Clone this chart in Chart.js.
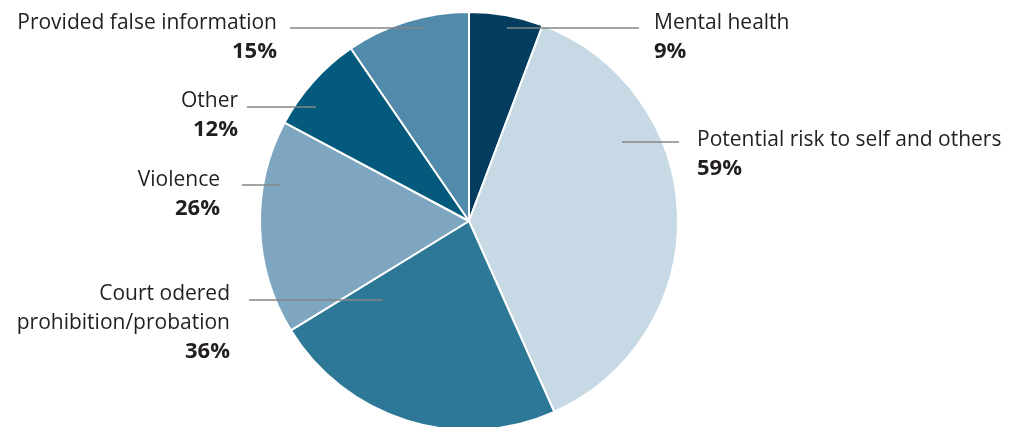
<!DOCTYPE html>
<html>
<head>
<meta charset="utf-8">
<script src="https://cdn.jsdelivr.net/npm/chart.js@4"></script>
<style>
  html, body { margin: 0; padding: 0; background: #fff; overflow: hidden; }
  #wrap { position: relative; width: 1029px; height: 440px; }
</style>
</head>
<body>
<div id="wrap"><canvas id="reasonsPie"></canvas></div>
<script>
// Reasons, clockwise from 12 o'clock
const categories = ['Mental health', 'Potential risk to self and others', 'Court odered prohibition/probation', 'Violence', 'Other', 'Provided false information'];
const shares = [9, 59, 36, 26, 12, 15];
const shareLabels = ['9%', '59%', '36%', '26%', '12%', '15%'];

const sliceColors = ['#043d5e', '#c6d9e4', '#2e7897', '#7ea6c0', '#035a7c', '#518aaa'];

// Callout placement, offsets from the pie centre.
// line: [x1, x2, y], text lines drawn from x with the given baselines
const callouts = [
    { line: [38, 170, -193], x: 185, align: 'left', lines: ['Mental health'], base: -192 },
    { line: [153, 210, -79], x: 228, align: 'left', lines: ['Potential risk to self and others'], base: -75 },
    { line: [-220, -86, 79], x: -239, align: 'right', lines: ['Court odered', 'prohibition/probation'], base: 79 },
    { line: [-227, -189, -36], x: -249, align: 'right', lines: ['Violence'], base: -35 },
    { line: [-222, -153, -114], x: -231, align: 'right', lines: ['Other'], base: -114 },
    { line: [-179, -46, -193], x: -192, align: 'right', lines: ['Provided false information'], base: -192 }
];

const FONT = '"Open Sans", "DejaVu Sans", sans-serif';
const LINE_H = 29;

const calloutPlugin = {
    id: 'callouts',
    afterDraw(chart) {
        const ctx = chart.ctx;
        const arcs = chart.getDatasetMeta(0).data;
        if (!arcs.length) return;
        const cx = arcs[0].x, cy = arcs[0].y;
        ctx.save();
        callouts.forEach((c, i) => {
            // leader line
            ctx.strokeStyle = '#868686';
            ctx.lineWidth = 1.5;
            ctx.beginPath();
            ctx.moveTo(cx + c.line[0], cy + c.line[2]);
            ctx.lineTo(cx + c.line[1], cy + c.line[2]);
            ctx.stroke();

            ctx.textAlign = c.align;
            ctx.textBaseline = 'alphabetic';
            ctx.fillStyle = '#231f20';
            let y = cy + c.base;
            ctx.font = '21px ' + FONT;
            c.lines.forEach(t => {
                ctx.fillText(t, cx + c.x, y);
                y += LINE_H;
            });
            ctx.font = 'bold 22px ' + FONT;
            ctx.fillText(shareLabels[i], cx + c.x, y);
        });
        ctx.restore();
    }
};

new Chart(document.getElementById('reasonsPie'), {
    type: 'pie',
    data: {
        labels: categories,
        datasets: [{
            data: shares,
            backgroundColor: sliceColors,
            borderColor: '#ffffff',
            borderWidth: 2
        }]
    },
    options: {
        responsive: true,
        maintainAspectRatio: false,
        animation: false,
        layout: { padding: { left: 259, right: 350, top: 11, bottom: 9 } },
        plugins: {
            legend: { display: false },
            tooltip: { enabled: false }
        }
    },
    plugins: [calloutPlugin]
});
</script>
</body>
</html>
